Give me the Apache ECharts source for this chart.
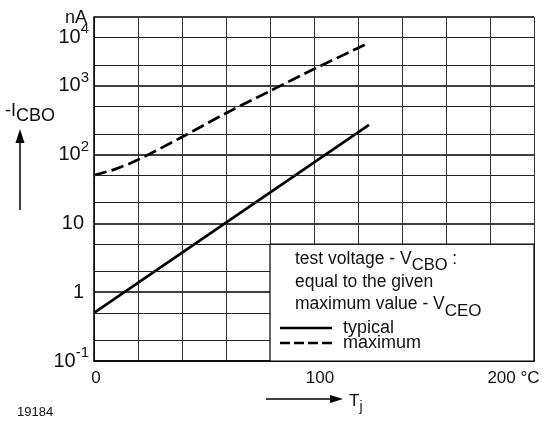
<!DOCTYPE html>
<html>
<head>
<meta charset="utf-8">
<script src="https://cdn.jsdelivr.net/npm/echarts@6/dist/echarts.min.js"></script>
<style>
  html, body { margin: 0; padding: 0; background: #fff; }
  #chart { width: 544px; height: 421px; }
</style>
</head>
<body>
<div id="chart"></div>
<script>
// ---- data ----
const typicalT = [0, 125];
const typicalI = [0.5, 270];

const maximumT = [0, 10, 20, 40, 60, 80, 100, 120, 125];
const maximumI = [50, 62, 84, 180, 400, 840, 1750, 3540, 4200];

const minorYLines = [0.2, 0.5, 2, 5, 20, 50, 200, 500, 2000, 5000];

const xLabelValues = [0, 100, 200];
const xLabelTexts = ['0', '100', '200 °C'];

const yTickBase = ['10', '1', '10', '10', '10', '10'];
const yTickExp  = ['-1', '', '', '2', '3', '4'];

const legendBoxX = [80, 200];
const legendBoxY = [0.1, 5];

const FONT = '"Liberation Sans", Arial, Helvetica, sans-serif';
const INK = '#111';

const SOLID_ICON = 'path://M0,0h52v2.6h-52z';
const DASH_ICON = 'path://M0,0h10v2.6h-10z M14,0h10v2.6h-10z M28,0h10v2.6h-10z M42,0h10v2.6h-10z';

const chart = echarts.init(document.getElementById('chart'), null, { renderer: 'canvas' });

function pairs(xs, ys) { return xs.map((x, i) => [x, ys[i]]); }

const option = {
  animation: false,
  backgroundColor: '#fff',
  textStyle: { fontFamily: FONT },
  grid: { left: 94, top: 17, right: 10, bottom: 60, containLabel: false },
  xAxis: {
    type: 'value', min: 0, max: 200, interval: 20,
    axisLine: { show: true, lineStyle: { color: '#000', width: 1.5 } },
    axisTick: { show: false },
    splitLine: { show: true, lineStyle: { color: '#333', width: 1 } },
    axisLabel: {
      margin: 9,
      color: INK, fontFamily: FONT, fontSize: 17,
      formatter: function (v) {
        const i = xLabelValues.indexOf(Math.round(v));
        if (i < 0) return '';
        return '{x' + i + '|' + xLabelTexts[i] + '}';
      },
      rich: {
        x0: { fontSize: 17, color: INK, fontFamily: FONT, padding: [0, 0, 0, 4] },
        x1: { fontSize: 17, color: INK, fontFamily: FONT, padding: [0, 0, 0, 12] },
        x2: { fontSize: 17, color: INK, fontFamily: FONT, padding: [0, 41, 0, 0] }
      }
    }
  },
  yAxis: {
    type: 'log', logBase: 10, min: 0.1, max: 10000,
    axisLine: { show: true, lineStyle: { color: '#000', width: 1.5 } },
    axisTick: { show: false },
    splitLine: { show: true, lineStyle: { color: '#000', width: 1.6 } },
    minorSplitLine: { show: false },
    axisLabel: {
      margin: 5,
      color: INK, fontFamily: FONT, fontSize: 20,
      formatter: function (v) {
        const i = Math.round(Math.log10(v)) + 1;
        if (i < 0 || i >= yTickBase.length) return '';
        if (i === yTickBase.length - 1) {
          return '{bt|' + yTickBase[i] + '}{st|' + yTickExp[i] + '}';
        }
        if (yTickExp[i] === '') return '{bn|' + yTickBase[i] + '}';
        return '{b|' + yTickBase[i] + '}{s|' + yTickExp[i] + '}';
      },
      rich: {
        b:  { fontSize: 20, color: INK, fontFamily: FONT },
        bn: { fontSize: 20, color: INK, fontFamily: FONT, padding: [0, 5, 0, 0] },
        s:  { fontSize: 15, color: INK, fontFamily: FONT, padding: [0, 0, 16, 0] },
        bt: { fontSize: 20, color: INK, fontFamily: FONT, padding: [40, 0, 0, 0] },
        st: { fontSize: 15, color: INK, fontFamily: FONT, padding: [24, 0, 0, 0] }
      }
    }
  },
  legend: {
    left: 275, top: 314, orient: 'vertical',
    itemWidth: 52, itemHeight: 2.6, itemGap: -3,
    selectedMode: false,
    textStyle: { fontSize: 18, color: INK, fontFamily: FONT, padding: [0, 0, 0, 6] },
    data: [
      { name: 'typical', icon: SOLID_ICON, itemStyle: { color: '#000' } },
      { name: 'maximum', icon: DASH_ICON, itemStyle: { color: '#000' } }
    ]
  },
  series: [
    {
      name: 'minorGrid', type: 'line', data: [], z: 1, silent: true,
      markLine: {
        silent: true, symbol: ['none', 'none'], animation: false,
        label: { show: false },
        lineStyle: { color: '#222', width: 1, type: 'solid' },
        emphasis: { disabled: true },
        data: minorYLines.map(v => [
          { xAxis: 0, yAxis: v },
          { xAxis: v < legendBoxY[1] ? legendBoxX[0] : 200, yAxis: v }
        ])
      }
    },
    {
      name: 'box', type: 'line', data: [], z: 2, silent: true,
      markArea: {
        silent: true, animation: false,
        itemStyle: { color: '#fff', borderColor: '#000', borderWidth: 1.2 },
        emphasis: { disabled: true },
        data: [[{ xAxis: legendBoxX[0], yAxis: legendBoxY[1] }, { xAxis: legendBoxX[1], yAxis: legendBoxY[0] }]]
      }
    },
    {
      name: 'typical', type: 'line', z: 3,
      data: pairs(typicalT, typicalI),
      symbol: 'none',
      lineStyle: { color: '#000', width: 2.7, type: 'solid' },
      itemStyle: { color: '#000' }
    },
    {
      name: 'maximum', type: 'line', z: 3,
      data: pairs(maximumT, maximumI),
      symbol: 'none', smooth: 0.3,
      lineStyle: { color: '#000', width: 2.7, type: [13, 5] },
      itemStyle: { color: '#000' }
    }
  ],
  graphic: [
    { type: 'text', x: 65, y: 18, style: { text: 'nA', fontSize: 18, fontFamily: FONT, fill: INK, verticalAlign: 'middle' } },
    { type: 'text', x: 5, y: 113, style: {
        text: '{a|-I}{b|CBO}', fontFamily: FONT, fill: INK, verticalAlign: 'middle',
        rich: {
          a: { fontSize: 18, fontFamily: FONT, fill: INK, padding: [0, 0, 4, 0] },
          b: { fontSize: 18, fontFamily: FONT, fill: INK, padding: [6, 0, 0, 0] }
        }
    } },
    { type: 'line', shape: { x1: 20, y1: 210, x2: 20, y2: 140 }, style: { stroke: '#000', lineWidth: 1.5 } },
    { type: 'polygon', shape: { points: [[20, 129], [15.5, 143], [24.5, 143]] }, style: { fill: '#000' } },
    { type: 'line', shape: { x1: 266, y1: 399, x2: 332, y2: 399 }, style: { stroke: '#000', lineWidth: 1.5 } },
    { type: 'polygon', shape: { points: [[343, 399], [330, 395], [330, 403]] }, style: { fill: '#000' } },
    { type: 'text', x: 349, y: 401, style: {
        text: '{t|T}{j|j}', fontFamily: FONT, fill: INK, verticalAlign: 'middle',
        rich: {
          t: { fontSize: 17, fontFamily: FONT, fill: INK },
          j: { fontSize: 14, fontFamily: FONT, fill: INK, padding: [12, 0, 0, 0] }
        }
    } },
    { type: 'text', x: 17, y: 412, style: { text: '19184', fontSize: 13, fontFamily: FONT, fill: INK, verticalAlign: 'middle' } },
    { type: 'text', x: 295, y: 259, z: 10, style: {
        text: '{n|test voltage - V}{s|CBO}{n| :}', fontFamily: FONT, fill: INK, verticalAlign: 'middle',
        rich: {
          n: { fontSize: 17.5, fontFamily: FONT, fill: INK },
          s: { fontSize: 16.5, fontFamily: FONT, fill: INK, padding: [12, 0, 0, 0] }
        }
    } },
    { type: 'text', x: 295, y: 282, z: 10, style: { text: 'equal to the given', fontSize: 17.5, fontFamily: FONT, fill: INK, verticalAlign: 'middle' } },
    { type: 'text', x: 295, y: 304, z: 10, style: {
        text: '{n|maximum value - V}{s|CEO}', fontFamily: FONT, fill: INK, verticalAlign: 'middle',
        rich: {
          n: { fontSize: 17.5, fontFamily: FONT, fill: INK },
          s: { fontSize: 17, fontFamily: FONT, fill: INK, padding: [14, 0, 0, 0] }
        }
    } }
  ]
};

chart.setOption(option);
</script>
</body>
</html>
